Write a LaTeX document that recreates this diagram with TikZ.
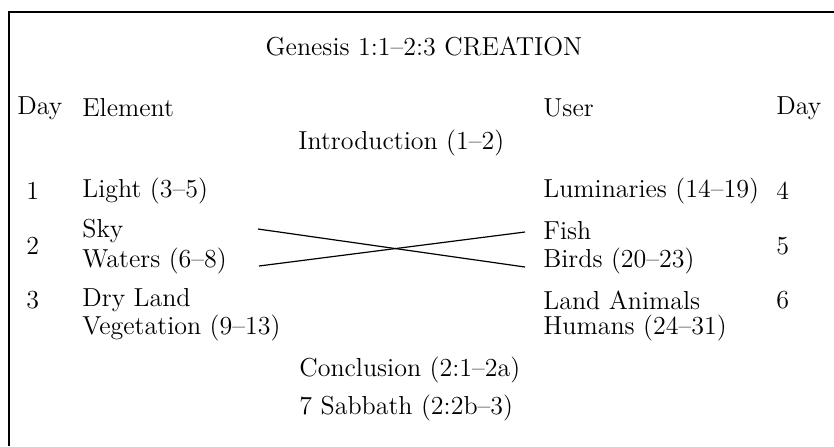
\documentclass[tikz,border=0pt]{standalone}
\usetikzlibrary{positioning}

\begin{document}
\begin{tikzpicture}[x=0.5pt, y=-0.5pt,
    entry/.style={anchor=west, inner sep=0pt, font=\fontsize{13}{15.5}\selectfont},
    heading/.style={entry, anchor=center},
    swap/.style={line width=0.6pt}
  ]
  \useasboundingbox (0,0) rectangle (834,446);
  \draw[line width=0.75pt] (9,446) -- (9,12) -- (834,12);

  \node[heading] (title) at (424,46) {Genesis 1:1--2:3 CREATION};

  % column heads
  \node[entry] (dayL)  at (17,108)  {Day};
  \node[entry] (elem)  at (82,108)  {Element};
  \node[entry] (user)  at (543,108) {User};
  \node[entry] (dayR)  at (776,108) {Day};

  \node[entry] (intro) at (298,143) {Introduction (1--2)};

  % days 1 to 3
  \node[entry] (d1)    at (26,191)  {1};
  \node[entry] (light) at (82,191)  {Light (3--5)};
  \node[entry] (d2)    at (26,246)  {2};
  \node[entry] (sky)   at (82,231)  {Sky};
  \node[entry] (water) at (82,261)  {Waters (6--8)};
  \node[entry] (d3)    at (26,300)  {3};
  \node[entry] (land)  at (82,300)  {Dry Land};
  \node[entry] (veg)   at (82,328)  {Vegetation (9--13)};

  % days 4 to 6
  \node[entry] (lum)   at (543,191) {Luminaries (14--19)};
  \node[entry] (d4)    at (776,191) {4};
  \node[entry] (fish)  at (543,231) {Fish};
  \node[entry] (bird)  at (543,261) {Birds (20--23)};
  \node[entry] (d5)    at (776,246) {5};
  \node[entry] (anim)  at (543,300) {Land Animals};
  \node[entry] (human) at (543,328) {Humans (24--31)};
  \node[entry] (d6)    at (776,300) {6};

  \node[entry] (concl) at (299,370) {Conclusion (2:1--2a)};
  \node[entry] (sabb)  at (299,408) {7 Sabbath (2:2b--3)};

  % crossing links
  \coordinate (skyEnd)   at (258,229);
  \coordinate (waterEnd) at (259,266);
  \coordinate (fishEnd)  at (525,232);
  \coordinate (birdEnd)  at (525,267);
  \draw[swap] (skyEnd) -- (birdEnd);
  \draw[swap] (waterEnd) -- (fishEnd);
\end{tikzpicture}
\end{document}
